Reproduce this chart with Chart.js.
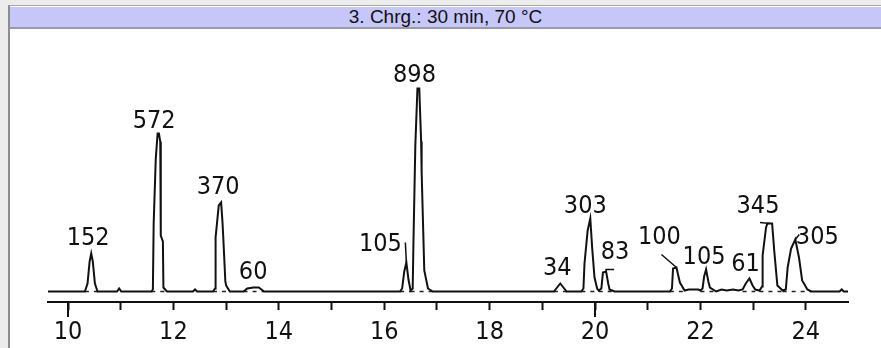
<!DOCTYPE html>
<html>
<head>
<meta charset="utf-8">
<script src="https://cdn.jsdelivr.net/npm/chart.js@4"></script>
<style>
  html, body { margin: 0; padding: 0; width: 881px; height: 348px; overflow: hidden; background: #ececec; }
  #frame { position: absolute; left: 8px; top: 5px; width: 873px; height: 343px; background: #fff;
           border-left: 2px solid #8c8c8c; border-top: 1px solid #a8a8a8; box-sizing: border-box; }
  #title { position: absolute; left: 0; top: 1px; width: 100%; height: 22px; background: #c6c6f8;
           border-bottom: 2px solid #9a9aa8; box-sizing: border-box; text-align: center;
           font: 19px 'Liberation Sans', Arial, sans-serif; line-height: 20px; color: #111; }
  #wrap { position: absolute; left: 0; top: 24px; width: 871px; height: 319px; }
</style>
</head>
<body>
<div id="frame">
  <div id="title">3. Chrg.: 30 min, 70 °C</div>
  <div id="wrap"><canvas id="chrom"></canvas></div>
</div>
<script>
  // detector trace, retention time (min) and signal
  const traceTimes = [
    9.62, 10.32, 10.37, 10.41, 10.44, 10.47, 10.51, 10.56,
    10.93, 10.97, 11.01,
    11.58, 11.61, 11.625, 11.665, 11.70, 11.725, 11.75, 11.76, 11.80, 11.81, 11.86, 11.88,
    12.37, 12.41, 12.45,
    12.75, 12.79, 12.80, 12.86, 12.905, 12.93, 12.945, 12.985, 13.0, 13.07,
    13.33, 13.40, 13.52, 13.62, 13.72,
    16.30, 16.34, 16.38, 16.42, 16.46, 16.50,
    16.54, 16.555, 16.59, 16.63, 16.665, 16.70, 16.71, 16.76, 16.83, 16.92,
    19.22, 19.28, 19.34, 19.40, 19.46,
    19.74, 19.78, 19.80, 19.86, 19.91, 19.945, 19.99, 20.04, 20.07,
    20.12, 20.15, 20.21, 20.25, 20.275, 20.37,
    21.42, 21.46, 21.48, 21.545, 21.61, 21.70, 21.78, 21.96, 22.0,
    22.04, 22.07, 22.107, 22.15, 22.18, 22.30,
    22.40, 22.50, 22.62, 22.72,
    22.80, 22.86, 22.93, 22.99, 23.04,
    23.12, 23.17, 23.18, 23.245, 23.27, 23.36, 23.40, 23.46, 23.56,
    23.62, 23.655, 23.72, 23.80, 23.87, 23.93, 24.03, 24.10,
    24.64, 24.68, 24.72, 24.82
  ];
  const traceSignal = [
    0, 0, 8, 30, 38, 30, 8, 0,
    0, 3, 0,
    0, 2, 68, 133, 158, 158, 150, 56, 50, 4, 1, 0,
    0, 2, 0,
    0, 3, 54, 86, 89, 70, 55, 10, 6, 0,
    0, 3, 4, 4, 0,
    0, 3, 20, 29, 12, 1,
    3, 51, 146, 203, 203, 150, 119, 21, 3, 0,
    0, 4, 8, 4, 0,
    0, 3, 28, 61, 73, 44, 14, 3, 1,
    3, 19, 20, 8, 2, 0,
    0, 3, 23, 24, 9, 1, 2, 2, 1,
    3, 15, 22, 10, 4, 0,
    2, 1, 2, 1,
    2, 8, 13, 6, 2,
    1, 5, 36, 64, 68, 68, 41, 6, 1,
    2, 24, 43, 52, 34, 11, 2, 0,
    0, 2, 0, 0
  ];

  // integrated peaks: retention time, area, integration limits
  const peakTimes = [10.44, 11.71, 12.905, 13.57, 16.42, 16.65, 19.34, 19.91, 20.21, 21.545, 22.107, 22.93, 23.32, 23.80];
  const peakAreas = [152, 572, 370, 60, 105, 898, 34, 303, 83, 100, 105, 61, 345, 305];
  const peakStart = [10.32, 11.58, 12.75, 13.33, 16.30, 16.50, 19.22, 19.74, 20.07, 21.42, 22.00, 22.80, 23.12, 23.56];
  const peakEnd   = [10.56, 11.88, 13.07, 13.72, 16.50, 16.92, 19.46, 20.07, 20.37, 21.70, 22.30, 23.04, 23.56, 24.10];

  const tickValues = [10, 11, 12, 13, 14, 15, 16, 17, 18, 19, 20, 21, 22, 23, 24];

  const labelFont = "25px 'Liberation Sans Narrow', 'Arial Narrow', 'DejaVu Sans Condensed', sans-serif";

  // where each area label sits relative to its peak apex (px), with optional leader line
  const labelPlace = [
    { dx: -3, dy: -9 },
    { dx: -4, dy: -6 },
    { dx: -3, dy: -9 },
    { dx: -3, dy: -9 },
    { dx: -26, dy: -12, leader: [[0, 0], [-1, -20]] },
    { dx: -4, dy: -7 },
    { dx: -3, dy: -9 },
    { dx: -5, dy: -6 },
    { dx: 9, dy: -13, leader: [[0, 0], [0, -2], [8, -2]] },
    { dx: -17, dy: -24, leader: [[0, 0], [-15, -13]] },
    { dx: -2, dy: -6 },
    { dx: -4, dy: -8 },
    { dx: -12, dy: -11, leader: [[0, 0], [-10, -1]] },
    { dx: 22, dy: 4, leader: [[0, 0], [4, -5]] }
  ];

  function apexOf(t) {
    let best = 0;
    traceTimes.forEach((x, i) => {
      if (Math.abs(x - t) <= 0.06 && traceSignal[i] > best) best = traceSignal[i];
    });
    return best;
  }

  const tracePoints = traceTimes.map((t, i) => ({ x: t, y: traceSignal[i] }));
  const basePoints = [];
  peakStart.forEach((s, i) => {
    basePoints.push({ x: s, y: 0 }, { x: peakEnd[i], y: 0 }, { x: peakEnd[i], y: null });
  });

  const peakLabels = {
    id: 'peakLabels',
    afterDatasetsDraw(chart) {
      const { ctx, scales: { x, y } } = chart;
      ctx.save();
      ctx.font = labelFont;
      ctx.fillStyle = '#111';
      ctx.strokeStyle = '#111';
      ctx.lineWidth = 1.5;
      ctx.textAlign = 'center';
      ctx.textBaseline = 'alphabetic';
      peakTimes.forEach((t, i) => {
        const px = x.getPixelForValue(t);
        const py = y.getPixelForValue(apexOf(t));
        const p = labelPlace[i];
        if (p.leader) {
          ctx.beginPath();
          p.leader.forEach(([lx, ly], k) => {
            if (k === 0) ctx.moveTo(px + lx, py + ly);
            else ctx.lineTo(px + lx, py + ly);
          });
          ctx.stroke();
        }
        ctx.fillText(String(peakAreas[i]), px + p.dx, py + p.dy);
      });
      ctx.restore();
    }
  };

  // 10 and 20 get a longer tick mark
  const longTicks = {
    id: 'longTicks',
    afterDraw(chart) {
      const { ctx, scales: { x } } = chart;
      ctx.save();
      ctx.strokeStyle = '#111';
      ctx.lineWidth = 2;
      [10, 20].forEach(v => {
        const px = Math.round(x.getPixelForValue(v));
        ctx.beginPath();
        ctx.moveTo(px, x.top);
        ctx.lineTo(px, x.top + 15);
        ctx.stroke();
      });
      ctx.restore();
    }
  };

  const config = {
    type: 'line',
    data: {
      datasets: [
        {
          label: 'Signal',
          data: tracePoints,
          borderColor: '#111',
          borderWidth: 2,
          pointRadius: 0,
          tension: 0
        },
        {
          label: 'Baseline',
          data: basePoints,
          borderColor: '#222',
          borderWidth: 1.4,
          borderDash: [4, 5],
          pointRadius: 0,
          spanGaps: false
        }
      ]
    },
    options: {
      responsive: false,
      animation: false,
      layout: { padding: { top: 8, left: 38, right: 33, bottom: 0 } },
      plugins: {
        legend: { display: false },
        tooltip: { enabled: false }
      },
      scales: {
        x: {
          type: 'linear',
          min: 9.62,
          max: 24.8,
          afterBuildTicks: (scale) => { scale.ticks = tickValues.map(v => ({ value: v })); },
          afterFit: (scale) => { scale.height = 47; },
          border: { display: true, color: '#111', width: 2 },
          grid: { drawOnChartArea: false, drawTicks: true, tickLength: 8, tickColor: '#111', tickWidth: 2 },
          ticks: {
            autoSkip: false,
            maxRotation: 0,
            padding: 7,
            color: '#111',
            font: { family: "'Liberation Sans Narrow', 'Arial Narrow', 'DejaVu Sans Condensed', sans-serif", size: 25 },
            callback: (v) => (v % 2 === 0 ? String(v) : '')
          }
        },
        y: {
          display: false,
          min: -10.5,
          max: 253.5
        }
      }
    },
    plugins: [peakLabels, longTicks]
  };

  const canvas = document.getElementById('chrom');
  canvas.width = 871;
  canvas.height = 319;
  new Chart(canvas.getContext('2d'), config);
</script>
</body>
</html>
